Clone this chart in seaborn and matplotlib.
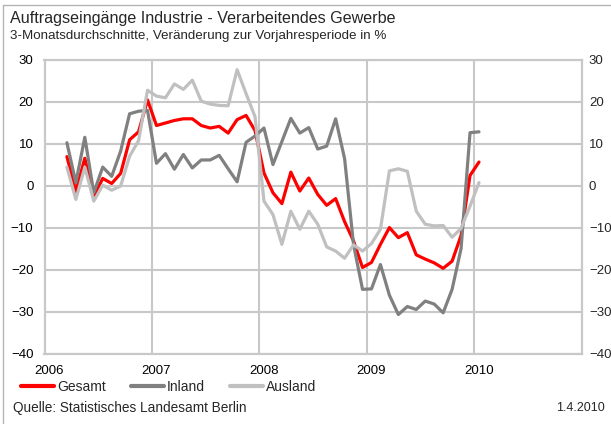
"""
Auftragseingaenge Industrie Berlin, 3-Monatsdurchschnitte.
Redraw of the Statistisches Landesamt chart with seaborn.
"""

import numpy as np
import pandas as pd
import matplotlib.pyplot as plt
from matplotlib.lines import Line2D
import seaborn as sns

#
#  Monthly values from March 2006 to January 2010
#

start_year = 2006
start_month = 3

gesamt = [7.0, -1.3, 6.6, -2.5, 1.8, 0.6, 3.0, 11.0, 12.9, 20.5,
          14.4, 15.0, 15.6, 16.0, 16.0, 14.4, 13.8, 14.2, 12.6, 15.8, 16.8, 13.2,
          3.1, -1.6, -4.2, 3.3, -1.2, 1.9, -2.0, -4.6, -3.0, -8.5, -13.1, -19.4,
          -18.2, -13.9, -9.9, -12.3, -11.1, -16.4, -17.4, -18.3, -19.6, -17.9, -11.8, 2.5,
          5.7]

inland = [10.3, 0.8, 11.6, -1.6, 4.5, 2.3, 8.3, 17.2, 17.8, 18.0,
          5.4, 7.7, 4.0, 7.5, 4.3, 6.2, 6.2, 7.3, 4.1, 1.0, 10.4, 11.9,
          13.8, 5.1, 10.6, 16.1, 12.6, 13.9, 8.8, 9.5, 16.0, 6.5, -14.0, -24.6,
          -24.5, -18.7, -26.0, -30.6, -28.7, -29.4, -27.4, -28.1, -30.2, -24.6, -14.9, 12.7,
          12.9]

ausland = [4.5, -3.2, 4.5, -3.6, 0.2, -1.0, 0.0, 7.1, 10.8, 22.8,
           21.4, 21.0, 24.3, 23.0, 25.2, 20.2, 19.5, 19.2, 19.1, 27.7, 22.0, 16.5,
           -3.6, -6.8, -13.9, -6.0, -10.3, -6.0, -9.1, -14.5, -15.5, -17.2, -14.0, -15.5,
           -13.7, -10.3, 3.6, 4.1, 3.5, -6.0, -9.1, -9.5, -9.4, -12.2, -10.1, -4.8,
           0.8]

series_names = ["Gesamt", "Inland", "Ausland"]
series_colors = ["#ff0000", "#808080", "#c0c0c0"]
year_labels = [2006, 2007, 2008, 2009, 2010]
y_ticks = [-40, -30, -20, -10, 0, 10, 20, 30]

#
#  Long form table, values placed in the middle of each month
#

n = len(gesamt)
month_offset = np.arange(n) + start_month - 1
t = start_year + (month_offset + 0.5) / 12

data = pd.DataFrame({
    "t": np.tile(t, 3),
    "wert": gesamt + inland + ausland,
    "reihe": np.repeat(series_names, n),
})

sns.set_style("white")
plt.rcParams['font.family'] = ['Liberation Sans', 'DejaVu Sans']

grid_color = "#c8c8c8"

fig = plt.figure(figsize=(6.11, 4.24), dpi=100)
ax = fig.add_axes([44.5/611, 1 - 354/424, (582 - 44.5)/611, (354 - 60)/424])

palette = dict(zip(series_names, series_colors))
sns.lineplot(data=data, x="t", y="wert", hue="reihe", hue_order=series_names,
             palette=palette, linewidth=2.3, legend=False, ax=ax, zorder=3)

ax.set_xlim(2006, 2011)
ax.set_ylim(-40, 30)

# year labels at January, grid lines at year boundaries
ax.set_xticks([y + 0.5/12 for y in year_labels])
ax.set_xticklabels([str(y) for y in year_labels])
ax.set_xticks(year_labels[1:], minor=True)
ax.set_yticks(y_ticks)

ax.grid(axis='x', which='minor', color=grid_color, linewidth=1.5)
ax.grid(axis='y', which='major', color=grid_color, linewidth=1.5)
ax.grid(axis='x', which='major', visible=False)

ax.tick_params(axis='both', which='both', length=0, labelsize=9.5, colors='black')
ax.tick_params(axis='y', pad=8)
ax.tick_params(axis='x', pad=8)

# same scale repeated on the right side
ax_r = ax.twinx()
ax_r.set_ylim(ax.get_ylim())
ax_r.set_yticks(y_ticks)
ax_r.tick_params(axis='y', length=0, labelsize=9.5, pad=5)
ax_r.grid(False)

for a in (ax, ax_r):
    for side in a.spines.values():
        side.set_color(grid_color)
        side.set_linewidth(1.5)

ax.set_xlabel("")
ax.set_ylabel("")

#
#  Titles, legend and footer
#

fig.text(10/611, 1 - 18/424, "Auftragseingänge Industrie - Verarbeitendes Gewerbe",
         fontsize=11.6, va='center', ha='left')
fig.text(10/611, 1 - 36/424, "3-Monatsdurchschnitte, Veränderung zur Vorjahresperiode in %",
         fontsize=9.6, va='center', ha='left')

handles = [Line2D([], [], color=c, linewidth=3) for c in series_colors]
fig.legend(handles, series_names, loc='center left', bbox_to_anchor=(21/611, 1 - 387/424),
           ncol=3, frameon=False, fontsize=10, handlelength=2.4, handletextpad=0.2,
           columnspacing=1.8, borderaxespad=0, borderpad=0)

fig.text(13/611, 1 - 408/424, "Quelle: Statistisches Landesamt Berlin",
         fontsize=9.8, va='center', ha='left')
fig.text(605/611, 1 - 408/424, "1.4.2010", fontsize=9, va='center', ha='right')

# frame line on the left and top of the picture
fig.add_artist(Line2D([3/611, 3/611], [0, 1 - 5/424], color="#b4b4b4", linewidth=1,
                      transform=fig.transFigure))
fig.add_artist(Line2D([3/611, 1], [1 - 5/424, 1 - 5/424], color="#b4b4b4", linewidth=1,
                      transform=fig.transFigure))

fig.savefig('out.png', dpi=100)
